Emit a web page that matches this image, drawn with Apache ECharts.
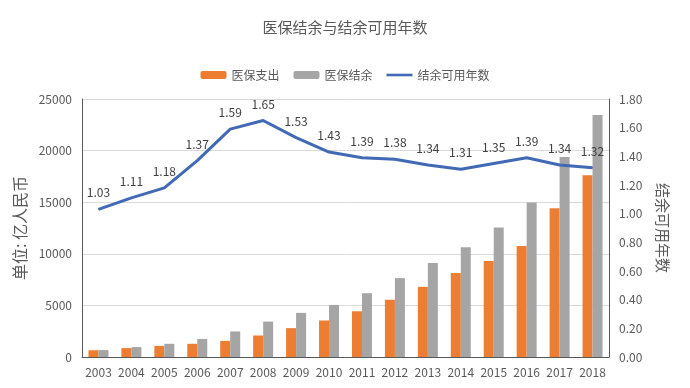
<!DOCTYPE html>
<html><head><meta charset="utf-8">
<script src="https://cdn.jsdelivr.net/npm/echarts@6/dist/echarts.min.js"></script>
<style>html,body{margin:0;padding:0;background:#fff}#c{width:690px;height:388px}</style>
</head><body><div id="c"></div>
<script>
const years = ['2003','2004','2005','2006','2007','2008','2009','2010','2011','2012','2013','2014','2015','2016','2017','2018'];
const expenditure = [654, 862, 1079, 1277, 1562, 2084, 2797, 3538, 4431, 5544, 6801, 8134, 9312, 10767, 14422, 17608];
const surplus = [670, 958, 1278, 1752, 2477, 3432, 4276, 5047, 6180, 7644, 9116, 10645, 12543, 14964, 19386, 23440];
const usableYears = [1.03, 1.11, 1.18, 1.37, 1.59, 1.65, 1.53, 1.43, 1.39, 1.38, 1.34, 1.31, 1.35, 1.39, 1.34, 1.32];

const font = '"Microsoft YaHei","Noto Sans CJK SC",sans-serif';
const chart = echarts.init(document.getElementById('c'));
chart.setOption({
  animation: false,
  textStyle: {fontFamily: font},
  title: {text: '医保结余与结余可用年数', left: 'center', top: 15,
    textStyle: {fontSize: 15, fontWeight: 'normal', color: '#595959', fontFamily: font}},
  legend: {top: 64, left: 'center', itemWidth: 26, itemHeight: 8, itemGap: 14,
    textStyle: {fontSize: 12, color: '#595959'},
    data: [{name: '医保支出'}, {name: '医保结余'}, {name: '结余可用年数', icon: 'path://M0,0 L10,0 L10,1 L0,1 Z'}]},
  grid: {left: 82, right: 81, top: 99, bottom: 31},
  xAxis: {type: 'category', data: years,
    axisLine: {lineStyle: {color: '#595959'}}, axisTick: {show: false},
    axisLabel: {fontSize: 12, color: '#595959', margin: 9, interval: 0}},
  yAxis: [
    {type: 'value', min: 0, max: 25000, interval: 5000, name: '单位: 亿人民币',
     nameLocation: 'middle', nameGap: 42, nameRotate: 90,
     nameTextStyle: {fontSize: 16, color: '#595959'},
     axisLine: {show: true, lineStyle: {color: '#595959'}}, axisTick: {show: false},
     axisLabel: {fontSize: 12, color: '#595959', margin: 10, formatter: v => String(v)},
     splitLine: {lineStyle: {color: '#d9d9d9'}}},
    {type: 'value', min: 0, max: 1.8, interval: 0.2, name: '结余可用年数',
     nameLocation: 'middle', nameGap: 46, nameRotate: -90,
     nameTextStyle: {fontSize: 15, color: '#595959'},
     axisLine: {show: true, lineStyle: {color: '#595959'}}, axisTick: {show: false},
     axisLabel: {fontSize: 12, color: '#595959', margin: 10, formatter: v => v.toFixed(2)},
     splitLine: {show: false}}
  ],
  series: [
    {name: '医保支出', type: 'bar', data: expenditure, barWidth: 10, barGap: '0%',
     itemStyle: {color: '#ED7D31'}},
    {name: '医保结余', type: 'bar', data: surplus, barWidth: 10, barGap: '0%',
     itemStyle: {color: '#A5A5A5'}},
    {name: '结余可用年数', type: 'line', yAxisIndex: 1, data: usableYears,
     symbol: 'circle', symbolSize: 1, showSymbol: true,
     lineStyle: {color: '#4169B4', width: 3}, itemStyle: {color: '#4169B4'},
     label: {show: true, position: 'top', distance: 10, fontSize: 12, color: '#404040',
       formatter: p => p.value.toFixed(2)}}
  ]
});
</script></body></html>
